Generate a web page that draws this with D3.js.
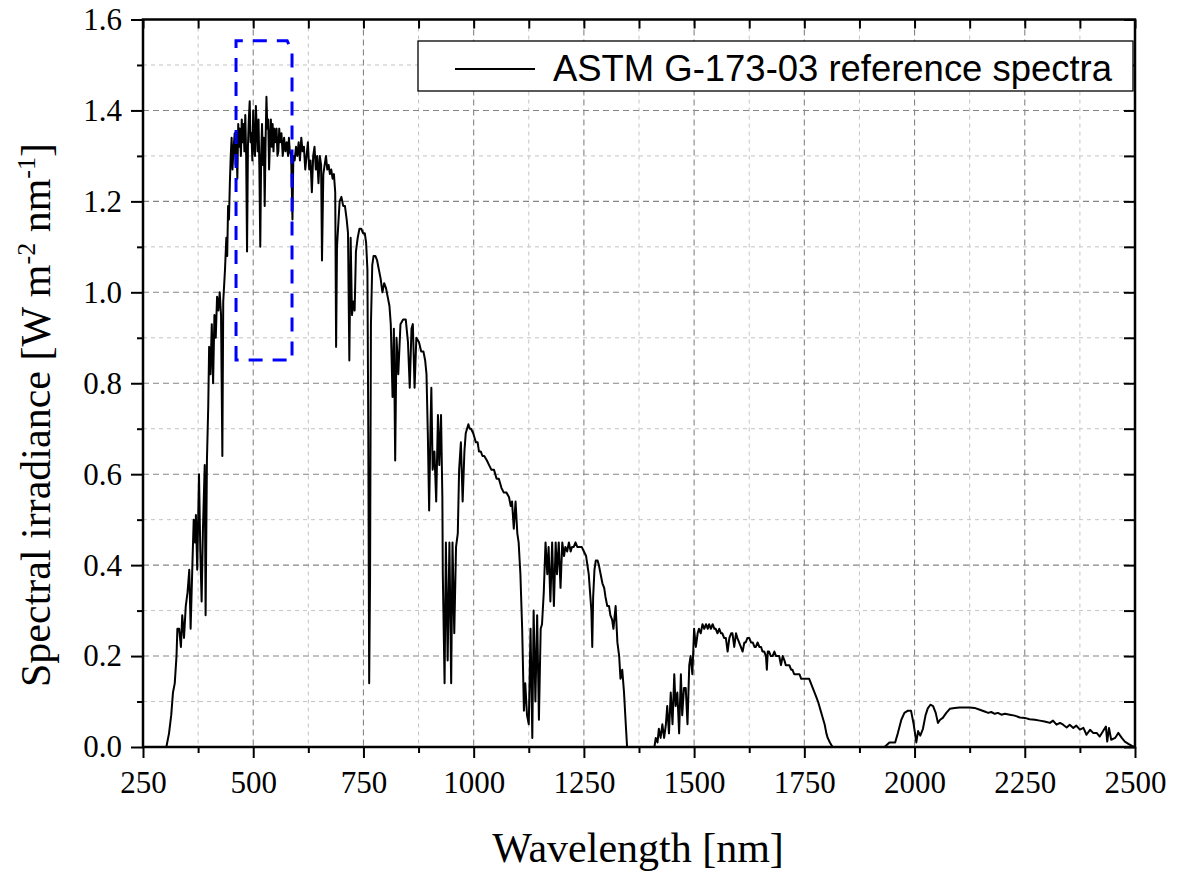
<!DOCTYPE html>
<html>
<head>
<meta charset="utf-8">
<script src="https://cdn.jsdelivr.net/npm/d3@7"></script>
<style>
  body { margin: 0; background: #fff; }
  svg { display: block; }
</style>
</head>
<body>
<svg width="1186" height="872"></svg>
<script>
// ASTM G-173-03 spectrum (nm, W m-2 nm-1)
var wavelength = [
  280,295,303,309,314,318,322,326,328,332,
  336,339,343,347,351,355,358,362,365,368,
  370,373,377,380,383,386,390,392,395,398,
  400,403,406,409,412,415,418,421,424,427,
  430,432,436,439,441,443,445,447,449,451,
  453,455,458,460,462,464,466,468,470,472,
  474,476,478,480,482,484,486,488,490,492,
  494,496,498,500,502,504,506,508,510,512,
  514,516,518,520,522,524,526,528,530,532,
  534,536,538,540,542,544,546,548,550,553,
  555,557,559,561,564,567,570,573,576,579,
  581,583,586,589,591,594,597,600,603,606,
  609,612,615,618,621,624,627,630,633,636,
  639,642,645,648,651,654,656,659,662,665,
  668,671,674,677,680,683,686,688,690,693,
  696,700,704,708,712,715,718,721,724,727,
  730,733,737,741,745,749,753,756,759,761,
  763,765,767,770,773,777,781,785,789,793,
  797,801,805,809,812,814,816,819,822,825,
  829,834,840,846,851,855,859,862,866,870,
  876,881,886,890,893,896,899,902,904,907,
  911,915,919,922,926,929,930,934,937,941,
  945,949,952,956,960,964,967,971,975,979,
  982,985,988,991,994,999,1005,1009,1012,1016,
  1020,1024,1030,1035,1040,1046,1052,1057,1063,1068,
  1074,1080,1084,1087,1091,1095,1099,1102,1106,1110,
  1114,1117,1121,1125,1129,1133,1136,1140,1144,1148,
  1152,1155,1159,1163,1167,1170,1174,1178,1182,1186,
  1189,1193,1197,1201,1205,1208,1212,1216,1220,1223,
  1227,1231,1235,1239,1245,1250,1255,1258,1261,1264,
  1267,1269,1271,1274,1277,1281,1284,1288,1292,1296,
  1299,1303,1307,1310,1314,1317,1322,1326,1330,1333,
  1337,1341,1345,1348,1405,1410,1413,1417,1420,1424,
  1428,1432,1436,1439,1443,1447,1451,1455,1458,1462,
  1466,1470,1473,1477,1481,1485,1489,1492,1496,1500,
  1504,1508,1511,1515,1519,1523,1527,1531,1534,1538,
  1542,1546,1549,1553,1557,1561,1564,1568,1572,1576,
  1580,1584,1587,1591,1595,1598,1602,1606,1610,1614,
  1617,1621,1625,1629,1633,1637,1640,1644,1648,1652,
  1655,1659,1663,1665,1667,1670,1674,1678,1682,1686,
  1690,1693,1697,1701,1705,1708,1712,1716,1720,1723,
  1727,1731,1735,1739,1743,1747,1750,1754,1758,1761,
  1765,1769,1773,1777,1781,1784,1787,1790,1793,1796,
  1800,1803,1808,1814,1932,1943,1951,1956,1962,1970,
  1977,1985,1992,1998,2004,2008,2013,2019,2025,2030,
  2036,2042,2048,2053,2058,2064,2072,2080,2091,2102,
  2114,2125,2136,2148,2159,2167,2174,2182,2189,2197,
  2205,2216,2227,2239,2250,2261,2273,2284,2295,2307,
  2314,2322,2330,2337,2345,2352,2360,2367,2375,2383,
  2390,2398,2405,2413,2420,2427,2434,2437,2441,2446,
  2455,2462,2470,2477,2485,2496,2500
];

var irradiance = [
  0,0,0,0.03,0.07,0.12,0.14,0.20,0.26,0.26,
  0.22,0.29,0.24,0.31,0.34,0.39,0.26,0.40,0.50,0.45,
  0.51,0.39,0.60,0.43,0.32,0.48,0.62,0.29,0.63,0.75,
  0.88,0.82,0.93,0.80,0.95,0.90,0.99,0.96,1.00,0.95,
  0.64,0.98,1.05,1.12,1.08,1.19,1.16,1.24,1.30,1.34,
  1.27,1.31,1.35,1.28,1.33,1.25,1.37,1.32,1.36,1.30,
  1.38,1.33,1.37,1.31,1.39,1.30,1.09,1.32,1.38,1.42,
  1.33,1.35,1.29,1.40,1.32,1.30,1.41,1.36,1.31,1.38,
  1.27,1.10,1.30,1.37,1.28,1.34,1.19,1.33,1.43,1.36,
  1.38,1.27,1.33,1.38,1.32,1.37,1.31,1.36,1.33,1.36,
  1.30,1.31,1.36,1.33,1.35,1.30,1.34,1.31,1.33,1.30,
  1.34,1.31,1.30,1.16,1.30,1.29,1.32,1.30,1.33,1.29,
  1.34,1.31,1.32,1.27,1.30,1.33,1.27,1.29,1.22,1.30,
  1.32,1.27,1.30,1.24,1.30,1.28,1.07,1.26,1.28,1.30,
  1.27,1.28,1.26,1.27,1.25,1.26,1.22,0.88,1.10,1.15,
  1.20,1.21,1.19,1.19,1.16,1.13,0.85,1.12,0.95,0.98,
  0.96,1.09,1.12,1.14,1.14,1.13,1.13,1.11,1.05,0.69,
  0.14,0.37,0.93,1.06,1.08,1.08,1.07,1.05,1.03,1.00,
  1.02,1.01,0.99,0.97,0.93,0.85,0.77,0.92,0.63,0.90,
  0.82,0.93,0.94,0.94,0.89,0.79,0.92,0.93,0.79,0.90,
  0.89,0.87,0.87,0.85,0.82,0.69,0.52,0.70,0.79,0.61,
  0.65,0.54,0.73,0.62,0.73,0.55,0.38,0.14,0.45,0.19,
  0.45,0.14,0.45,0.25,0.44,0.47,0.61,0.67,0.54,0.65,
  0.69,0.70,0.71,0.70,0.70,0.69,0.67,0.67,0.65,0.65,
  0.64,0.64,0.63,0.62,0.61,0.61,0.59,0.59,0.57,0.56,
  0.56,0.55,0.53,0.54,0.48,0.54,0.47,0.45,0.38,0.26,
  0.08,0.14,0.07,0.05,0.26,0.02,0.30,0.10,0.29,0.06,
  0.26,0.27,0.34,0.45,0.38,0.44,0.32,0.45,0.31,0.45,
  0.38,0.45,0.35,0.45,0.42,0.44,0.43,0.45,0.43,0.44,
  0.44,0.45,0.44,0.44,0.44,0.43,0.42,0.40,0.38,0.34,
  0.30,0.22,0.33,0.39,0.41,0.41,0.40,0.38,0.36,0.35,
  0.33,0.31,0.31,0.29,0.28,0.26,0.31,0.23,0.20,0.15,
  0.17,0.12,0.05,0.00,0.00,0.00,0.02,0.01,0.04,0.02,
  0.05,0.02,0.05,0.09,0.03,0.12,0.05,0.16,0.09,0.12,
  0.03,0.16,0.07,0.13,0.13,0.05,0.18,0.20,0.16,0.26,
  0.22,0.25,0.26,0.25,0.27,0.26,0.27,0.26,0.27,0.26,
  0.27,0.26,0.26,0.25,0.26,0.25,0.25,0.24,0.24,0.21,
  0.24,0.25,0.25,0.22,0.25,0.24,0.23,0.22,0.21,0.23,
  0.23,0.24,0.24,0.23,0.23,0.22,0.22,0.23,0.22,0.22,
  0.21,0.21,0.20,0.17,0.21,0.21,0.20,0.20,0.21,0.20,
  0.20,0.20,0.18,0.20,0.19,0.18,0.18,0.18,0.17,0.17,
  0.16,0.16,0.16,0.16,0.15,0.15,0.15,0.15,0.15,0.15,
  0.14,0.13,0.12,0.11,0.10,0.09,0.08,0.07,0.06,0.05,
  0.03,0.02,0.01,0,0,0.01,0.01,0.01,0.03,0.06,
  0.075,0.08,0.08,0.05,0.01,0.035,0.025,0.04,0.07,0.085,
  0.093,0.09,0.075,0.053,0.06,0.064,0.075,0.084,0.086,0.087,
  0.087,0.087,0.086,0.082,0.078,0.075,0.077,0.073,0.075,0.071,
  0.073,0.071,0.069,0.065,0.064,0.061,0.06,0.058,0.056,0.053,
  0.058,0.049,0.053,0.049,0.043,0.049,0.042,0.047,0.038,0.042,
  0.027,0.038,0.031,0.031,0.023,0.034,0.045,0.012,0.042,0.016,
  0.02,0.031,0.02,0.012,0.007,0.001,0
];

var xTicks = [250, 500, 750, 1000, 1250, 1500, 1750, 2000, 2250, 2500];
var xMinor = [375, 625, 875, 1125, 1375, 1625, 1875, 2125, 2375];
var yTicks = [0, 0.2, 0.4, 0.6, 0.8, 1.0, 1.2, 1.4, 1.6];
var yMinor = [0.1, 0.3, 0.5, 0.7, 0.9, 1.1, 1.3, 1.5];

// highlighted region (blue dashed), wavelength / irradiance
var boxWl  = [461, 461, 577, 588, 588];
var boxIrr = [0.851, 1.553, 1.553, 1.530, 0.851];

var legendLabel = "ASTM G-173-03 reference spectra";

if (wavelength.length != irradiance.length) console.error("length mismatch", wavelength.length, irradiance.length);

var svg = d3.select("svg"),
    margin = {top: 19.5, right: 51, bottom: 125, left: 143},
    width = +svg.attr("width") - margin.left - margin.right,
    height = +svg.attr("height") - margin.top - margin.bottom,
    g = svg.append("g").attr("transform", "translate(" + margin.left + "," + margin.top + ")");

var x = d3.scaleLinear().domain([250, 2500]).range([0, width]);
var y = d3.scaleLinear().domain([0, 1.6]).range([height, 0]);

var serif = "'Liberation Serif', 'Times New Roman', serif";

// grid, minor first
g.append("g").selectAll("line").data(xMinor).enter().append("line")
    .attr("x1", d => x(d)).attr("x2", d => x(d)).attr("y1", 0).attr("y2", height)
    .attr("stroke", "#c4c4c4").attr("stroke-width", 1).attr("stroke-dasharray", "4,4");
g.append("g").selectAll("line").data(yMinor).enter().append("line")
    .attr("y1", d => y(d)).attr("y2", d => y(d)).attr("x1", 0).attr("x2", width)
    .attr("stroke", "#c4c4c4").attr("stroke-width", 1).attr("stroke-dasharray", "4,4");
g.append("g").selectAll("line").data(xTicks).enter().append("line")
    .attr("x1", d => x(d)).attr("x2", d => x(d)).attr("y1", 0).attr("y2", height)
    .attr("stroke", "#858585").attr("stroke-width", 1.1).attr("stroke-dasharray", "6,4");
g.append("g").selectAll("line").data(yTicks).enter().append("line")
    .attr("y1", d => y(d)).attr("y2", d => y(d)).attr("x1", 0).attr("x2", width)
    .attr("stroke", "#858585").attr("stroke-width", 1.1).attr("stroke-dasharray", "6,4");

// spectrum
var pts = d3.zip(wavelength, irradiance);
g.append("path")
    .datum(pts)
    .attr("fill", "none")
    .attr("stroke", "#000")
    .attr("stroke-width", 2)
    .attr("stroke-linejoin", "round")
    .attr("d", d3.line().x(d => x(d[0])).y(d => y(d[1])));

// blue dashed box
g.append("path")
    .datum(d3.zip(boxWl, boxIrr))
    .attr("fill", "none")
    .attr("stroke", "#0000ff")
    .attr("stroke-width", 3)
    .attr("stroke-dasharray", "14,10")
    .attr("d", d3.line().x(d => x(d[0])).y(d => y(d[1])).curve(d3.curveLinearClosed));

// legend
var leg = svg.append("g").attr("transform", "translate(418,41)");
leg.append("rect").attr("width", 715).attr("height", 50)
    .attr("fill", "#fff").attr("stroke", "#000").attr("stroke-width", 1.3);
leg.append("line").attr("x1", 37).attr("x2", 117).attr("y1", 28).attr("y2", 28)
    .attr("stroke", "#000").attr("stroke-width", 2);
leg.append("text").attr("x", 135).attr("y", 40)
    .attr("font-family", "'Liberation Sans', Arial, sans-serif")
    .attr("font-size", 36)
    .attr("textLength", 559).attr("lengthAdjust", "spacingAndGlyphs")
    .text(legendLabel);

// axes
var axisStyle = function(sel) {
  sel.select(".domain").remove();
  sel.selectAll(".tick line").attr("stroke", "#000").attr("stroke-width", 2);
  sel.selectAll("text").attr("font-family", serif).attr("font-size", 31).attr("fill", "#000");
};

g.append("g").attr("transform", "translate(0," + height + ")")
    .call(d3.axisBottom(x).tickValues(xTicks).tickSize(11).tickPadding(13).tickFormat(d3.format("d")))
    .call(axisStyle);
g.append("g").attr("transform", "translate(0," + height + ")")
    .call(d3.axisBottom(x).tickValues(xMinor).tickSize(6).tickFormat(""))
    .call(axisStyle);
g.append("g")
    .call(d3.axisLeft(y).tickValues(yTicks).tickSize(12).tickPadding(9).tickFormat(d3.format(".1f")))
    .call(axisStyle);
g.append("g")
    .call(d3.axisLeft(y).tickValues(yMinor).tickSize(6).tickFormat(""))
    .call(axisStyle);
// mirrored ticks pointing inward
g.append("g")
    .call(d3.axisBottom(x).tickValues(xTicks.concat(xMinor)).tickSize(9).tickFormat(""))
    .call(axisStyle);
g.append("g").attr("transform", "translate(" + width + ",0)")
    .call(d3.axisLeft(y).tickValues(yTicks.concat(yMinor)).tickSize(11).tickFormat(""))
    .call(axisStyle);

// frame
g.append("rect").attr("width", width).attr("height", height)
    .attr("fill", "none").attr("stroke", "#000").attr("stroke-width", 2.5);

// titles
svg.append("text")
    .attr("x", margin.left + width / 2 - 1).attr("y", 862)
    .attr("text-anchor", "middle")
    .attr("font-family", serif).attr("font-size", 42)
    .text("Wavelength [nm]");

var yt = svg.append("text")
    .attr("transform", "translate(50,415) rotate(-90)")
    .attr("text-anchor", "middle")
    .attr("font-family", serif).attr("font-size", 42);
yt.append("tspan").text("Spectral irradiance [W m");
yt.append("tspan").attr("font-size", 26).attr("dy", -15).text("-2");
yt.append("tspan").attr("dy", 15).text(" nm");
yt.append("tspan").attr("font-size", 26).attr("dy", -15).text("-1");
yt.append("tspan").attr("dy", 15).text("]");
</script>
</body>
</html>
